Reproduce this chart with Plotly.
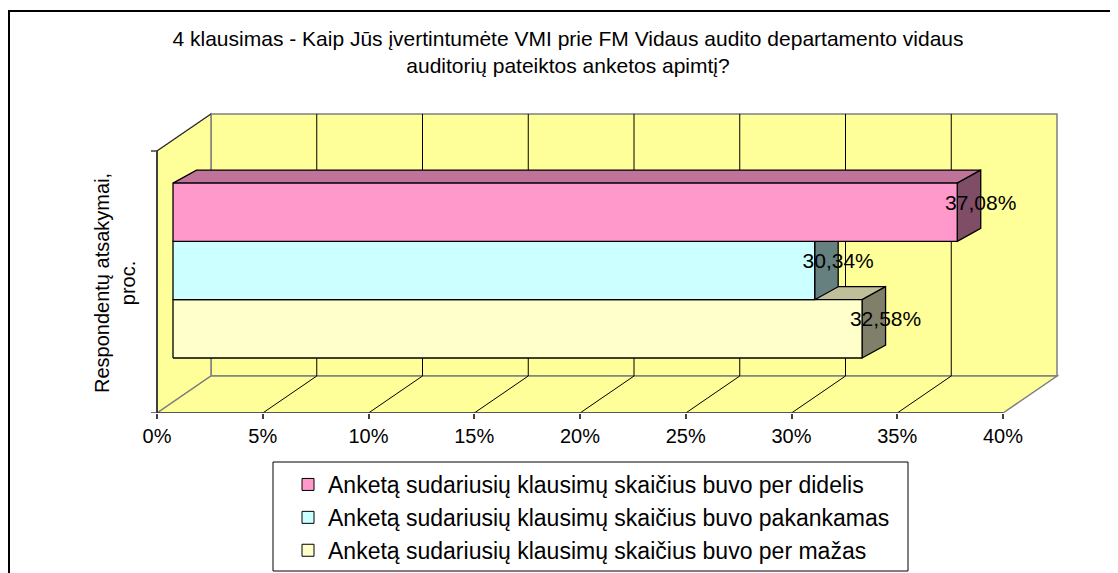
import plotly.graph_objects as go

# ---------------- data ----------------
categories = [
    "Anketą sudariusių klausimų skaičius buvo per didelis",
    "Anketą sudariusių klausimų skaičius buvo pakankamas",
    "Anketą sudariusių klausimų skaičius buvo per mažas",
]
values = [37.08, 30.34, 32.58]
front_colors = ["#FF99CC", "#CCFFFF", "#FFFFCC"]
top_colors = ["#BF7399", "#99BFBF", "#BFBF99"]
side_colors = ["#804D66", "#668080", "#80806A"]
tick_values = [0, 5, 10, 15, 20, 25, 30, 35, 40]
tick_labels = ["0%", "5%", "10%", "15%", "20%", "25%", "30%", "35%", "40%"]
title_text = ("4 klausimas - Kaip Jūs įvertintumėte VMI prie FM Vidaus audito departamento vidaus"
              "<br>auditorių pateiktos anketos apimtį?")
y_title = "Respondentų atsakymai,<br>proc."

# ---------------- geometry (page pixels -> figure / axis units) ----------------
PAGE_W, PAGE_H = 1118, 573
OFF = 8                                   # default page body margin
W, H = PAGE_W - OFF, PAGE_H - OFF
L_PX, R_PX, T_PX, B_PX = 130, 1070, 100, 413   # plot area in page pixels
ORIGIN_PX = 157
K = (1003 - 157) / 40.0                   # px per percent
x_range = [(L_PX - ORIGIN_PX) / K, (R_PX - ORIGIN_PX) / K]
y_range = [0, B_PX - T_PX]
M_L, M_R, M_T, M_B = L_PX - OFF, PAGE_W - R_PX, T_PX - OFF, PAGE_H - B_PX

WALL_DX = 54 / K      # depth shift of walls (x units)
WALL_DY = 37          # depth shift of walls (y units)
WALL_H = 262          # wall height
BAR_X0 = 16 / K
BAR_DX = 23.5 / K
BAR_DY = 13
BAR_BOTTOM = 55
BAR_H = 58.3
XMAX = tick_values[-1]

WALL = "#FFFF99"
GREY = "#808080"


def px_x(p):
    return (p - L_PX) / (R_PX - L_PX)


def px_y(p):
    return (B_PX - p) / (B_PX - T_PX)


shapes = []
# back wall
shapes.append(dict(type="rect", xref="x", yref="y", layer="below",
                   x0=WALL_DX, x1=XMAX + WALL_DX, y0=WALL_DY, y1=WALL_DY + WALL_H,
                   fillcolor=WALL, line=dict(color=GREY, width=1.5)))
# left side wall
shapes.append(dict(type="path", xref="x", yref="y", layer="below",
                   path=f"M0,0 L0,{WALL_H} L{WALL_DX},{WALL_H + WALL_DY} L{WALL_DX},{WALL_DY} Z",
                   fillcolor=WALL, line=dict(color=GREY, width=1.5)))
# floor
shapes.append(dict(type="path", xref="x", yref="y", layer="below",
                   path=f"M0,0 L{WALL_DX},{WALL_DY} L{XMAX + WALL_DX},{WALL_DY} L{XMAX},0 Z",
                   fillcolor=WALL, line=dict(color=GREY, width=1.5)))
# gridlines on back wall and floor
for t in tick_values[1:-1]:
    shapes.append(dict(type="line", xref="x", yref="y", layer="below",
                       x0=t + WALL_DX, x1=t + WALL_DX, y0=WALL_DY, y1=WALL_DY + WALL_H,
                       line=dict(color="#000000", width=1)))
    shapes.append(dict(type="line", xref="x", yref="y", layer="below",
                       x0=t, x1=t + WALL_DX, y0=0, y1=WALL_DY,
                       line=dict(color="#000000", width=1)))
# dark front edges
shapes.append(dict(type="line", xref="x", yref="y", layer="below",
                   x0=0, x1=XMAX, y0=0, y1=0, line=dict(color="#404040", width=1.5)))
shapes.append(dict(type="line", xref="x", yref="y", layer="below",
                   x0=0, x1=0, y0=0, y1=WALL_H, line=dict(color="#202020", width=1.5)))
shapes.append(dict(type="line", xref="x", yref="y", layer="below",
                   x0=0, x1=WALL_DX, y0=WALL_H, y1=WALL_H + WALL_DY,
                   line=dict(color="#202020", width=1)))
# small ticks on the left wall
for yy in (0, WALL_H):
    shapes.append(dict(type="line", xref="x", yref="y", layer="below",
                       x0=-6 / K, x1=0, y0=yy, y1=yy, line=dict(color="#404040", width=1.5)))
# legend frame
shapes.append(dict(type="rect", xref="paper", yref="paper",
                   x0=px_x(273), x1=px_x(908), y0=px_y(571), y1=px_y(462),
                   line=dict(color="#000000", width=1), fillcolor="rgba(0,0,0,0)"))
# outer chart frame
shapes.append(dict(type="rect", xref="paper", yref="paper",
                   x0=px_x(9), x1=px_x(1140), y0=px_y(600), y1=px_y(11),
                   line=dict(color="#000000", width=2), fillcolor="rgba(0,0,0,0)"))

fig = go.Figure()

# 3D bars, drawn bottom to top so faces overlap correctly
n = len(values)
for i in reversed(range(n)):
    v = values[i]
    x0, x1 = BAR_X0, BAR_X0 + v
    y0 = BAR_BOTTOM + (n - 1 - i) * BAR_H
    y1 = y0 + BAR_H
    faces = [
        ([x0, x1, x1 + BAR_DX, x0 + BAR_DX, x0], [y1, y1, y1 + BAR_DY, y1 + BAR_DY, y1], top_colors[i]),
        ([x1, x1 + BAR_DX, x1 + BAR_DX, x1, x1], [y0, y0 + BAR_DY, y1 + BAR_DY, y1, y0], side_colors[i]),
        ([x0, x1, x1, x0, x0], [y0, y0, y1, y1, y0], front_colors[i]),
    ]
    for fx, fy, col in faces:
        fig.add_trace(go.Scatter(x=fx, y=fy, mode="lines", fill="toself", fillcolor=col,
                                 line=dict(color="#000000", width=1.3),
                                 showlegend=False, hoverinfo="skip"))

# data labels
lab_x = [BAR_X0 + v + BAR_DX for v in values]
lab_y = [BAR_BOTTOM + (n - 1 - i) * BAR_H + BAR_H / 2 + 8 for i in range(n)]
lab_t = [f"{v:.2f}%".replace(".", ",") for v in values]
fig.add_trace(go.Scatter(x=lab_x, y=lab_y, text=lab_t, mode="text",
                         textfont=dict(size=21, color="#000000", family="Liberation Sans"),
                         showlegend=False, hoverinfo="skip"))

# legend entries
for i in range(n):
    fig.add_trace(go.Bar(x=[None], y=[None], orientation="h", name=categories[i],
                         marker=dict(color=front_colors[i], line=dict(color="#000000", width=1)),
                         legendgroup=f"g{i}", showlegend=True))

fig.update_layout(
    width=W, height=H,
    margin=dict(l=M_L, r=M_R, t=M_T, b=M_B, autoexpand=False),
    paper_bgcolor="white", plot_bgcolor="white",
    font=dict(family="Liberation Sans", color="#000000"),
    title=dict(text=title_text, x=(568 - OFF) / W, xanchor="center", xref="container",
               y=1 - (46 - OFF) / H, yanchor="top", yref="container",
               font=dict(size=21, family="Liberation Sans", color="#000000")),
    xaxis=dict(range=x_range, tickvals=tick_values, ticktext=tick_labels,
               ticks="outside", ticklen=5, tickcolor="#404040", tickwidth=1.5,
               showgrid=False, zeroline=False, showline=False,
               tickfont=dict(size=20, family="Liberation Sans", color="#000000"),
               fixedrange=True),
    yaxis=dict(range=y_range, showticklabels=False, showgrid=False, zeroline=False,
               showline=False, ticks="", fixedrange=True),
    shapes=shapes,
    annotations=[dict(text=y_title, xref="paper", yref="paper", x=px_x(115), y=px_y(283),
                      textangle=-90, showarrow=False, xanchor="center", yanchor="middle",
                      font=dict(size=20, family="Liberation Sans", color="#000000"))],
    legend=dict(x=px_x(288), y=px_y(463), xanchor="left", yanchor="top",
                bgcolor="rgba(0,0,0,0)", borderwidth=0, tracegroupgap=0,
                font=dict(size=23, family="Liberation Sans", color="#000000")),
    showlegend=True,
)

fig.write_html("out.html")
